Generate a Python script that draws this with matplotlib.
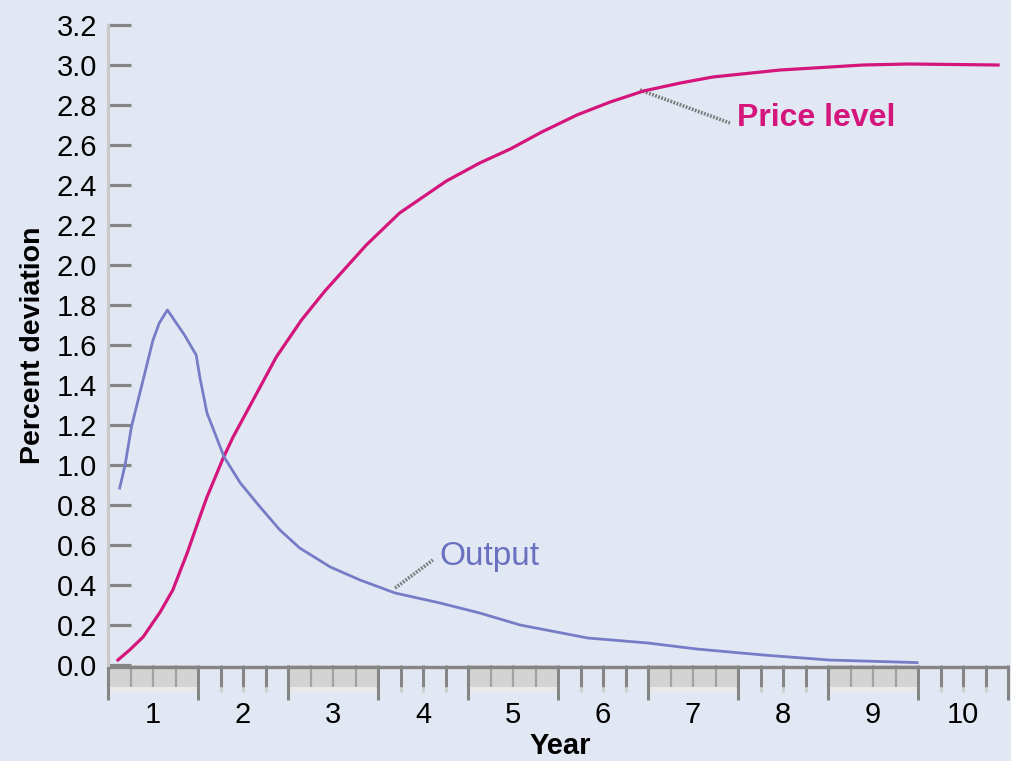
import matplotlib
matplotlib.use("Agg")
import matplotlib.pyplot as plt

# values
year_price = [0.61, 0.74, 0.89, 1.08, 1.22, 1.38, 1.52, 1.6, 1.78, 1.89, 2.13,
              2.37, 2.65, 2.91, 3.15, 3.37, 3.74, 4.0, 4.26, 4.63, 4.97, 5.32,
              5.71, 6.08, 6.45, 6.86, 7.22, 7.97, 8.89, 9.4, 10.39]
price_level = [0.025, 0.075, 0.14, 0.265, 0.375, 0.56, 0.74, 0.84, 1.035, 1.14,
               1.34, 1.54, 1.725, 1.87, 1.99, 2.1, 2.26, 2.34, 2.42, 2.51, 2.58,
               2.665, 2.75, 2.815, 2.87, 2.91, 2.94, 2.975, 3.0, 3.005, 3.0]

year_output = [0.63, 0.69, 0.76, 0.89, 1.0, 1.07, 1.16, 1.35, 1.48, 1.52, 1.6,
               1.79, 1.97, 2.19, 2.41, 2.63, 2.97, 3.3, 3.69, 4.19, 4.63, 5.08,
               5.83, 6.5, 7.04, 7.78, 8.51, 9.49]
output = [0.885, 1.0, 1.19, 1.425, 1.625, 1.71, 1.775, 1.65, 1.55, 1.44, 1.26,
          1.04, 0.91, 0.79, 0.675, 0.585, 0.49, 0.425, 0.36, 0.31, 0.26, 0.2,
          0.135, 0.11, 0.08, 0.05, 0.025, 0.012]

years = list(range(1, 11))
y_ticks = [0.0, 0.2, 0.4, 0.6, 0.8, 1.0, 1.2, 1.4, 1.6, 1.8, 2.0, 2.2, 2.4,
           2.6, 2.8, 3.0, 3.2]

bg = "#e1e8f4"
pink = "#d4167c"
blue = "#777cc6"
dark = "#858585"

plt.rcParams["font.family"] = ["Liberation Sans", "DejaVu Sans"]

fig = plt.figure(figsize=(10.11, 7.61), dpi=100, facecolor=bg)
W, H = 1011, 761
ax = fig.add_axes([108 / W, (H - 665) / H, 900 / W, 640 / H])
ax.set_facecolor(bg)
ax.set_xlim(0.5, 10.5)
ax.set_ylim(0, 3.2)

for s in ["top", "right", "bottom"]:
    ax.spines[s].set_visible(False)
ax.spines["left"].set_color("#c9c9c9")
ax.spines["left"].set_linewidth(2.2)

# y axis ticks drawn inward, like short dashes
ax.set_yticks(y_ticks)
ax.set_yticklabels(["%.1f" % v for v in y_ticks])
ax.tick_params(axis="y", direction="in", length=16.5, width=2.3, pad=8,
               labelsize=21, colors=dark, labelcolor="black")
light = {0.4, 0.6, 1.4, 2.4}
for t, v in zip(ax.yaxis.get_major_ticks(), y_ticks):
    if round(v, 1) in light:
        t.tick1line.set_color("#c2c2c2")

# x axis: labels only, the ruler band is drawn below
ax.set_xticks(years)
ax.set_xticklabels([str(y) for y in years])
ax.tick_params(axis="x", length=0, pad=26, labelsize=21, labelcolor="black")

# ruler band under the plot (in data units, 200 px per unit)
px = 1 / 200.0
for yr in years:
    lo, hi = yr - 0.5, yr + 0.5
    quarters = [lo + 0.25, lo + 0.5, lo + 0.75]
    if yr % 2 == 1:
        ax.fill_between([lo, hi], -22 * px, 0, color="#d3d3d3", lw=0, clip_on=False)
        ax.fill_between([lo, hi], -27 * px, -22 * px, color="#e9e9e9", lw=0, clip_on=False)
        ax.vlines(quarters, -22 * px, 0, color="#a2a2a2", lw=1.6, clip_on=False)
    else:
        ax.vlines(quarters, -22 * px, 0, color=dark, lw=2.2, clip_on=False)
        ax.vlines(quarters, -27 * px, -22 * px, color="#cfcfcf", lw=2.2, clip_on=False)
bounds = [yr - 0.5 for yr in years] + [10.5]
ax.vlines(bounds, -35 * px, 0, color=dark, lw=2.2, clip_on=False)
ax.hlines(-1.5 * px, 0.5, 10.5, color=dark, lw=2.4, clip_on=False)

# series
ax.plot(year_price, price_level, color=pink, lw=2.3, clip_on=False,
        solid_joinstyle="round", zorder=3)
ax.plot(year_output, output, color=blue, lw=2.0, clip_on=False,
        solid_joinstyle="round", zorder=3)

# leader lines and labels
ax.plot([6.41, 7.41], [2.875, 2.71], color="#7a7a7a", lw=2.6,
        linestyle=(0, (0.5, 0.4)), zorder=2)
ax.text(7.49, 2.735, "Price level", color=pink, fontsize=23, fontweight="bold",
        ha="left", va="center")
ax.plot([3.69, 4.11], [0.385, 0.525], color="#7a7a7a", lw=2.6,
        linestyle=(0, (0.5, 0.4)), zorder=2)
ax.text(4.18, 0.545, "Output", color="#6a70c0", fontsize=24,
        ha="left", va="center")

ax.set_xlabel("Year", fontsize=21, fontweight="bold")
ax.xaxis.set_label_coords((560 - 108) / 900, (665 - 746) / 640)
ax.xaxis.label.set_va("center")
ax.set_ylabel("Percent deviation", fontsize=20.5, fontweight="bold")
ax.yaxis.set_label_coords((33 - 108) / 900, 0.5)
ax.yaxis.label.set_va("center")

fig.savefig("out.png", dpi=100, facecolor=bg)
